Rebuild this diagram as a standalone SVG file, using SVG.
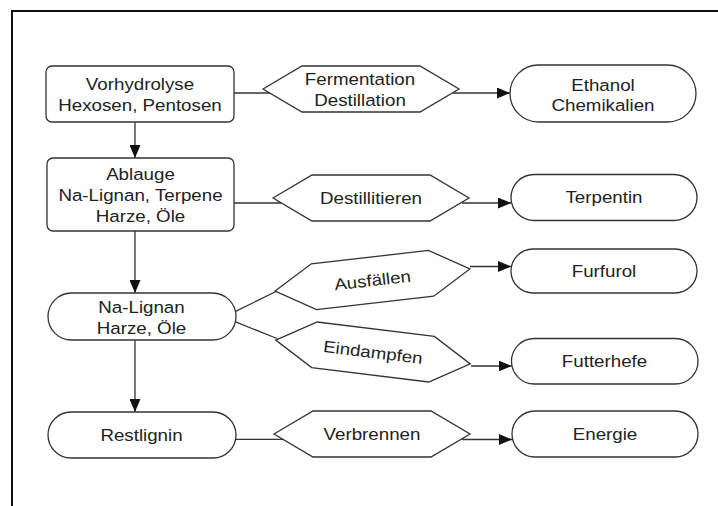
<svg xmlns="http://www.w3.org/2000/svg" width="718" height="506" viewBox="0 0 718 506">
<style>
.n{fill:#fff;stroke:#333;stroke-width:1.3}
.c{fill:none;stroke:#333;stroke-width:1.3}
.t{font-family:"Liberation Sans",Arial,sans-serif;font-size:16.3px;fill:#222;text-anchor:middle}
</style>
<defs>
<marker id="ah" markerUnits="userSpaceOnUse" markerWidth="13" markerHeight="11" refX="13" refY="5.5" orient="auto">
<path d="M0,0 L13,5.5 L0,11 Z" fill="#111"/>
</marker>
<path id="hex" d="M-98,0 L-59,-23 L59,-23 L98,0 L59,23 L-59,23 Z"/>
</defs>
<rect x="0" y="0" width="718" height="506" fill="#fff"/>
<rect x="12" y="11" width="720" height="510" fill="none" stroke="#111" stroke-width="2"/>
<g id="connectors">
<path class="c" d="M135,122 V158" marker-end="url(#ah)"/>
<path class="c" d="M234,93 H270"/>
<path class="c" d="M453,93 H510" marker-end="url(#ah)"/>
<path class="c" d="M234,203 H281"/>
<path class="c" d="M462,203 H511" marker-end="url(#ah)"/>
<path class="c" d="M135,231 V293" marker-end="url(#ah)"/>
<path class="c" d="M235,311.7 L276,291.5"/>
<path class="c" d="M235,321.7 L277,338.5"/>
<path class="c" d="M470,266.5 H511" marker-end="url(#ah)"/>
<path class="c" d="M471,366 H511.5" marker-end="url(#ah)"/>
<path class="c" d="M135,340 V412" marker-end="url(#ah)"/>
<path class="c" d="M236,439.3 H284"/>
<path class="c" d="M462,439.5 H512" marker-end="url(#ah)"/>
</g>
<g id="vorhydrolyse">
<rect class="n" x="46" y="66" width="188" height="56" rx="6"/>
<text class="t" transform="translate(140 0) scale(1.15 1)" y="90">Vorhydrolyse</text>
<text class="t" transform="translate(140 0) scale(1.15 1)" y="111">Hexosen, Pentosen</text>
</g>
<g id="ablauge">
<rect class="n" x="47" y="158" width="187" height="73" rx="6"/>
<text class="t" transform="translate(140.5 0) scale(1.15 1)" y="180">Ablauge</text>
<text class="t" transform="translate(140.5 0) scale(1.15 1)" y="201">Na-Lignan, Terpene</text>
<text class="t" transform="translate(140.5 0) scale(1.15 1)" y="222">Harze, Öle</text>
</g>
<g id="nalignan">
<rect class="n" x="48" y="293" width="188" height="47" rx="23.5"/>
<text class="t" transform="translate(141.5 0) scale(1.15 1)" y="313.5">Na-Lignan</text>
<text class="t" transform="translate(141.5 0) scale(1.15 1)" y="334">Harze, Öle</text>
</g>
<g id="restlignin">
<rect class="n" x="48" y="412" width="188" height="46" rx="23"/>
<text class="t" transform="translate(141.5 0) scale(1.15 1)" y="441.5">Restlignin</text>
</g>
<g id="fermentation">
<use href="#hex" class="n" transform="translate(361 89)"/>
<text class="t" transform="translate(360 0) scale(1.15 1)" y="85">Fermentation</text>
<text class="t" transform="translate(360 0) scale(1.15 1)" y="106">Destillation</text>
</g>
<g id="destillitieren">
<use href="#hex" class="n" transform="translate(371 198)"/>
<text class="t" transform="translate(371 0) scale(1.15 1)" y="204">Destillitieren</text>
</g>
<g id="ausfaellen">
<use href="#hex" class="n" transform="translate(372.5 280) rotate(-6.5)"/>
<text class="t" transform="translate(372.5 280) rotate(-6.5) scale(1.15 1)" y="6">Ausfällen</text>
</g>
<g id="eindampfen">
<use href="#hex" class="n" transform="translate(373 352) rotate(7)"/>
<text class="t" transform="translate(373 352) rotate(7) scale(1.15 1)" y="6">Eindampfen</text>
</g>
<g id="verbrennen">
<use href="#hex" class="n" transform="translate(372 434)"/>
<text class="t" transform="translate(372 0) scale(1.15 1)" y="440">Verbrennen</text>
</g>
<g id="ethanol">
<rect class="n" x="510" y="65" width="186" height="57" rx="28.5"/>
<text class="t" transform="translate(603 0) scale(1.15 1)" y="91">Ethanol</text>
<text class="t" transform="translate(603 0) scale(1.15 1)" y="111">Chemikalien</text>
</g>
<g id="terpentin">
<rect class="n" x="511" y="174.5" width="186" height="46" rx="23"/>
<text class="t" transform="translate(604 0) scale(1.15 1)" y="203.5">Terpentin</text>
</g>
<g id="furfurol">
<rect class="n" x="511" y="249" width="186" height="44" rx="22"/>
<text class="t" transform="translate(604 0) scale(1.15 1)" y="277">Furfurol</text>
</g>
<g id="futterhefe">
<rect class="n" x="511.5" y="338.5" width="186.5" height="45.5" rx="22.75"/>
<text class="t" transform="translate(604.5 0) scale(1.15 1)" y="367.5">Futterhefe</text>
</g>
<g id="energie">
<rect class="n" x="512" y="411" width="186" height="46" rx="23"/>
<text class="t" transform="translate(605 0) scale(1.15 1)" y="440">Energie</text>
</g>
</svg>
